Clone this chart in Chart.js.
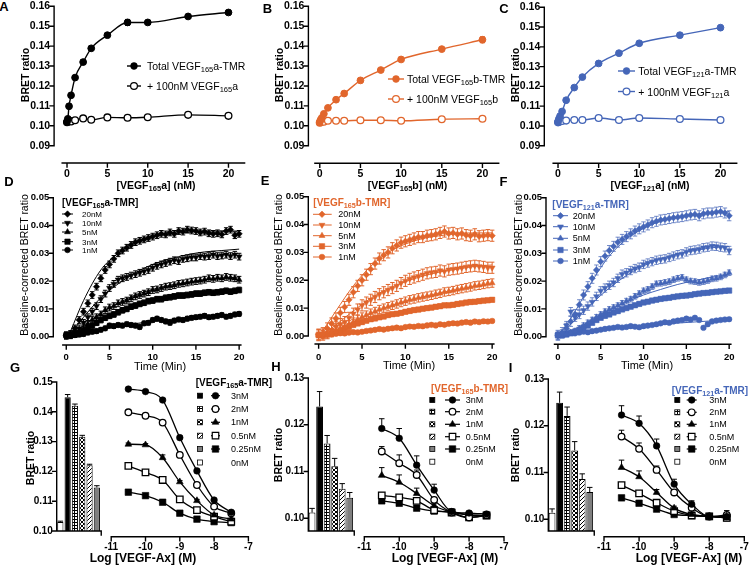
<!DOCTYPE html>
<html>
<head>
<meta charset="utf-8">
<title>VEGF-TMR BRET binding</title>
<script src="https://cdn.jsdelivr.net/npm/chart.js@4.4.1/dist/chart.umd.min.js"></script>
<style>
  body { margin: 0; background: #fff; }
  #fig { position: relative; width: 750px; height: 565px; overflow: hidden; background: #fff;
         font-family: "Liberation Sans", Arial, sans-serif; color: #000; }
  #fig canvas { position: absolute; }
  .t { position: absolute; white-space: nowrap; line-height: 1; }
  .t sub { font-size: 72%; vertical-align: baseline; position: relative; top: 0.3em; line-height: 0; }
</style>
</head>
<body>
<div id="fig"></div>
<script>
// ── A–C: saturation binding ──────────────────────────────────────────
const satConc = [0, 0.1, 0.25, 0.5, 1, 2, 3, 5, 7.5, 10, 15, 20];
const satTicksX = [0, 5, 10, 15, 20];
const satTicksY = [0.09, 0.10, 0.11, 0.12, 0.13, 0.14, 0.15, 0.16];

const totalA = [0.1020, 0.1035, 0.1098, 0.1153, 0.1242, 0.1320, 0.1389, 0.1455, 0.1519, 0.1519, 0.1549, 0.1569];
const nsbA   = [0.1018, 0.1020, 0.1025, 0.1022, 0.1028, 0.1037, 0.1030, 0.1042, 0.1040, 0.1043, 0.1055, 0.1050];
const errA   = [0, 0, 0, 0, 0.0005, 0.0012, 0.0005, 0.0005, 0.0015, 0.0005, 0.0005, 0.0005];
const totalB = [0.1018, 0.1030, 0.1040, 0.1060, 0.1090, 0.1131, 0.1162, 0.1228, 0.1280, 0.1333, 0.1385, 0.1432];
const nsbB   = [0.1015, 0.1018, 0.1020, 0.1020, 0.1025, 0.1025, 0.1025, 0.1028, 0.1028, 0.1025, 0.1033, 0.1035];
const errB   = [0, 0, 0, 0, 0.0005, 0.0005, 0.0005, 0.0005, 0.0005, 0.0005, 0.0005, 0.0015];
const totalC = [0.1020, 0.1035, 0.1050, 0.1073, 0.1130, 0.1194, 0.1247, 0.1316, 0.1368, 0.1418, 0.1459, 0.1497];
const nsbC   = [0.1018, 0.1020, 0.1025, 0.1025, 0.1027, 0.1030, 0.1030, 0.1040, 0.1030, 0.1040, 0.1035, 0.1030];
const errC   = [0, 0, 0, 0, 0.0005, 0.0005, 0.0005, 0.0005, 0.0005, 0.0010, 0.0010, 0.0005];

// ── D–F: association kinetics ────────────────────────────────────────
const kinTime = [0, 0.5, 1, 1.5, 2, 2.5, 3, 3.5, 4, 4.5, 5, 5.5, 6, 6.5, 7, 7.5, 8, 8.5, 9, 9.5, 10,
  10.5, 11, 11.5, 12, 12.5, 13, 13.5, 14, 14.5, 15, 15.5, 16, 16.5, 17, 17.5, 18, 18.5, 19, 19.5, 20];
const fitTime = [0.5, 2, 4, 6, 8, 10, 12, 14, 16, 18, 20];
const kinTicksY = [0, 0.01, 0.02, 0.03, 0.04, 0.05];
const kinLabels = ['20nM', '10nM', '5nM', '3nM', '1nM'];

const d20 = [0.0005,0.001,0.003,0.006,0.009,0.012,0.015,0.018,0.021,0.024,0.026,0.028,0.030,0.031,0.032,0.033,0.034,0.0345,0.035,0.0355,0.036,0.0365,0.037,0.0368,0.0375,0.037,0.038,0.0378,0.0385,0.0382,0.038,0.0375,0.0378,0.0372,0.037,0.0372,0.0368,0.038,0.0385,0.0365,0.037];
const d10 = [0.0003,0.0005,0.0015,0.003,0.005,0.007,0.009,0.011,0.0135,0.0155,0.0175,0.019,0.0205,0.021,0.0215,0.022,0.0225,0.023,0.0235,0.024,0.0248,0.0255,0.026,0.0265,0.027,0.0275,0.0272,0.028,0.0282,0.0285,0.0285,0.029,0.0288,0.029,0.0295,0.029,0.0292,0.0295,0.029,0.0295,0.0288];
const d5  = [0.0005,0.0008,0.001,0.002,0.003,0.0045,0.006,0.007,0.008,0.0095,0.0105,0.011,0.012,0.0125,0.013,0.0138,0.0145,0.015,0.0155,0.016,0.0168,0.017,0.0175,0.018,0.0182,0.0185,0.019,0.0192,0.0195,0.0198,0.020,0.0202,0.0205,0.021,0.0208,0.0212,0.021,0.0215,0.0212,0.021,0.0205];
const d3  = [0.0005,0.0006,0.0008,0.0012,0.002,0.003,0.004,0.005,0.006,0.0068,0.0075,0.008,0.0088,0.0095,0.010,0.0108,0.0112,0.0118,0.0122,0.0128,0.013,0.0135,0.0135,0.014,0.0142,0.0145,0.0148,0.0148,0.015,0.0152,0.0155,0.0155,0.0158,0.016,0.0158,0.016,0.0162,0.0165,0.0162,0.0165,0.0168];
const d1  = [0.0005,0.0004,0.0006,0.0008,0.001,0.0015,0.0018,0.002,0.0025,0.003,0.004,0.0038,0.0042,0.004,0.0045,0.0042,0.004,0.0035,0.0048,0.005,0.006,0.0065,0.006,0.0055,0.005,0.0058,0.0062,0.006,0.0065,0.0068,0.007,0.0072,0.0075,0.007,0.0072,0.0075,0.0078,0.0072,0.0075,0.008,0.0082];
const fitD20 = [0.002,0.013,0.024,0.030,0.034,0.036,0.037,0.0375,0.038,0.038,0.038];
const fitD10 = [0.001,0.007,0.014,0.019,0.023,0.026,0.028,0.0295,0.0305,0.031,0.0315];
const fitD5  = [0.0005,0.004,0.0085,0.012,0.015,0.017,0.0185,0.0195,0.0205,0.021,0.0215];
const fitD3  = [0.0005,0.003,0.006,0.009,0.0115,0.013,0.0145,0.0155,0.016,0.0165,0.017];
const fitD1  = [0.0004,0.0012,0.0025,0.0037,0.0047,0.0055,0.0062,0.0068,0.0073,0.0077,0.008];
const errD = [0.0012, 0.0012, 0.0012, 0.001, 0.0008];

const e20 = [0.0005,0.001,0.0027,0.0045,0.0063,0.0083,0.0104,0.013,0.0157,0.018,0.020,0.022,0.024,0.026,0.0278,0.029,0.030,0.0315,0.0325,0.0335,0.034,0.0345,0.035,0.0355,0.0355,0.036,0.0362,0.0365,0.037,0.0375,0.0368,0.037,0.0365,0.0368,0.0362,0.036,0.0365,0.0358,0.036,0.0362,0.036];
const e10 = [0.0003,0.0005,0.001,0.002,0.0033,0.0042,0.005,0.0065,0.008,0.0095,0.011,0.012,0.013,0.014,0.015,0.0157,0.0165,0.0172,0.018,0.019,0.0198,0.0205,0.021,0.0215,0.022,0.0225,0.0228,0.023,0.0235,0.0232,0.0238,0.024,0.0242,0.0245,0.0248,0.025,0.0252,0.025,0.0248,0.0245,0.0245];
const e5  = [0.0003,0.0005,0.0008,0.0012,0.0018,0.0025,0.0032,0.004,0.005,0.006,0.0068,0.0075,0.0082,0.0088,0.0095,0.010,0.0105,0.011,0.0115,0.012,0.0125,0.013,0.0133,0.0137,0.014,0.0143,0.0146,0.015,0.0153,0.0158,0.016,0.0163,0.0167,0.017,0.0173,0.0176,0.018,0.0182,0.0185,0.0188,0.019];
const e3  = [0.0003,0.0004,0.0006,0.001,0.0015,0.002,0.0028,0.0033,0.004,0.0045,0.005,0.0055,0.006,0.0063,0.0067,0.007,0.0075,0.0078,0.008,0.0083,0.0087,0.009,0.0093,0.0095,0.0098,0.010,0.0102,0.0105,0.0107,0.011,0.011,0.0112,0.0115,0.0117,0.012,0.0122,0.0123,0.0125,0.0127,0.0128,0.013];
const e1  = [0.0003,0.0003,0.0005,0.0006,0.0008,0.001,0.0009,0.0012,0.0014,0.0013,0.0015,0.0018,0.002,0.0022,0.0025,0.0023,0.0026,0.0028,0.003,0.0028,0.0032,0.0034,0.0033,0.0036,0.0035,0.0038,0.004,0.0038,0.0042,0.004,0.0044,0.0046,0.0045,0.0048,0.005,0.0048,0.0052,0.005,0.0053,0.0052,0.0054];
const fitE20 = [0.002,0.009,0.018,0.025,0.030,0.033,0.035,0.036,0.0368,0.037,0.037];
const fitE10 = [0.0005,0.004,0.009,0.0135,0.017,0.0195,0.0215,0.023,0.024,0.025,0.0255];
const fitE5  = [0.0003,0.002,0.005,0.008,0.0105,0.0125,0.014,0.0155,0.0167,0.0178,0.0187];
const fitE3  = [0.0003,0.0017,0.004,0.006,0.0075,0.0088,0.0099,0.0108,0.0116,0.0123,0.0129];
const fitE1  = [0.0003,0.0008,0.0014,0.002,0.0026,0.0031,0.0036,0.0041,0.0045,0.0049,0.0053];
const errE = [0.002, 0.002, 0.0015, 0.0008, 0.0006];

const f20 = [0.0005,0.0015,0.003,0.0055,0.008,0.0115,0.015,0.018,0.021,0.024,0.027,0.029,0.031,0.0325,0.034,0.035,0.036,0.037,0.038,0.0388,0.0395,0.0402,0.041,0.0415,0.042,0.0422,0.0425,0.0428,0.043,0.0432,0.0435,0.0438,0.044,0.0435,0.0442,0.0445,0.0445,0.0448,0.045,0.0445,0.0435];
const f10 = [0.0005,0.001,0.004,0.009,0.007,0.008,0.0095,0.011,0.0125,0.0145,0.0165,0.0175,0.0185,0.0195,0.021,0.0225,0.023,0.0238,0.0245,0.025,0.026,0.0265,0.027,0.0275,0.0278,0.028,0.0285,0.029,0.0295,0.0298,0.0305,0.031,0.0312,0.0315,0.032,0.0322,0.0326,0.0325,0.0322,0.032,0.031];
const f5  = [0.0005,0.0006,0.001,0.0015,0.002,0.003,0.004,0.005,0.006,0.007,0.008,0.009,0.0098,0.0105,0.0112,0.012,0.0128,0.0135,0.0145,0.0155,0.0165,0.017,0.018,0.019,0.0192,0.0195,0.0198,0.0205,0.021,0.0213,0.0205,0.020,0.0198,0.0195,0.0198,0.0202,0.0208,0.021,0.0215,0.0222,0.023];
const f3  = [0.0005,0.0006,0.0008,0.0012,0.0018,0.0025,0.0033,0.004,0.005,0.006,0.0068,0.0075,0.008,0.0087,0.0092,0.0098,0.0103,0.0108,0.0113,0.0118,0.0123,0.0126,0.013,0.0133,0.0136,0.0138,0.014,0.0143,0.0145,0.0147,0.0148,0.015,0.0153,0.0155,0.0157,0.0158,0.016,0.0162,0.0163,0.0165,0.0166];
const f1  = [0.0008,0.001,0.0012,0.0015,0.0012,0.0015,0.0018,0.0016,0.002,0.0022,0.0025,0.0028,0.003,0.0032,0.0035,0.0033,0.0035,0.0038,0.0036,0.0034,0.0038,0.004,0.0042,0.0045,0.0048,0.0052,0.005,0.0055,0.0058,0.006,0.0065,0.0062,0.0068,0.006,0.0032,0.0045,0.0055,0.0058,0.006,0.0062,0.0063];
const fitF20 = [0.002,0.009,0.020,0.029,0.035,0.039,0.0415,0.043,0.044,0.0445,0.045];
const fitF10 = [0.0015,0.006,0.012,0.0175,0.022,0.0255,0.028,0.0298,0.031,0.032,0.0325];
const fitF5  = [0.0005,0.0025,0.006,0.0095,0.0125,0.015,0.017,0.0188,0.0202,0.0214,0.0225];
const fitF3  = [0.0005,0.0022,0.005,0.0078,0.0102,0.012,0.0135,0.0146,0.0155,0.0161,0.0166];
const fitF1  = [0.001,0.0015,0.002,0.0028,0.0034,0.0039,0.0044,0.0049,0.0053,0.0057,0.006];
const errF = [0.0018, 0.0015, 0.001, 0.0008, 0.0006];

// ── G–I: competition with unlabelled VEGF-Ax ─────────────────────────
const barLabels = ['0nM', '3nM', '2nM', '1nM', '0.5nM', '0.25nM'];
const barG = [0.1030, 0.1449, 0.1420, 0.1316, 0.1221, 0.1146];
const barErrG = [0.0003, 0.0009, 0.0006, 0.0005, 0.0003, 0.0006];
const barH = [0.1012, 0.1239, 0.1160, 0.1111, 0.1063, 0.1044];
const barErrH = [0.0009, 0.0032, 0.0017, 0.0017, 0.0011, 0.0011];
const barI = [0.1014, 0.1249, 0.1221, 0.1147, 0.1086, 0.1058];
const barErrI = [0.0008, 0.0023, 0.0019, 0.0019, 0.0011, 0.0010];

const doseLog = [-10.5, -10, -9.5, -9, -8.5, -8, -7.5];
const doseTicksX = [-11, -10, -9, -8, -7];
const doseLabels = ['3nM', '2nM', '1nM', '0.5nM', '0.25nM'];

const g3   = [0.1471, 0.1463, 0.1436, 0.1316, 0.1210, 0.1117, 0.1078];
const g2   = [0.1397, 0.1386, 0.1364, 0.1261, 0.1165, 0.1096, 0.1075];
const g1   = [0.1295, 0.1293, 0.1252, 0.1175, 0.1115, 0.1069, 0.1056];
const g05  = [0.1226, 0.1205, 0.1181, 0.1119, 0.1085, 0.1064, 0.1048];
const g025 = [0.1142, 0.1131, 0.1110, 0.1075, 0.1056, 0.1048, 0.1045];
const errG3   = [0.0004, 0.0004, 0.0005, 0.0005, 0.0004, 0.0004, 0.0003];
const errG2   = [0.0004, 0.0004, 0.0005, 0.0005, 0.0004, 0.0004, 0.0003];
const errG1   = [0.0004, 0.0004, 0.0009, 0.0004, 0.0004, 0.0003, 0.0003];
const errG05  = [0.0003, 0.0003, 0.0004, 0.0004, 0.0004, 0.0003, 0.0003];
const errG025 = [0.0003, 0.0003, 0.0003, 0.0003, 0.0003, 0.0003, 0.0003];

const h3   = [0.1194, 0.1174, 0.1119, 0.1068, 0.1024, 0.1021, 0.1019];
const h2   = [0.1147, 0.1123, 0.1099, 0.1048, 0.1022, 0.1012, 0.1017];
const h1   = [0.1098, 0.1084, 0.1061, 0.1036, 0.1023, 0.1017, 0.1016];
const h05  = [0.1057, 0.1053, 0.1046, 0.1027, 0.1022, 0.1012, 0.1016];
const h025 = [0.1046, 0.1041, 0.1031, 0.1025, 0.1023, 0.1017, 0.1016];
const errH3   = [0.0020, 0.0020, 0.0019, 0.0012, 0.0005, 0.0004, 0.0004];
const errH2   = [0.0010, 0.0017, 0.0010, 0.0005, 0.0004, 0.0003, 0.0003];
const errH1   = [0.0016, 0.0015, 0.0011, 0.0004, 0.0003, 0.0003, 0.0003];
const errH05  = [0.0006, 0.0004, 0.0006, 0.0003, 0.0003, 0.0003, 0.0003];
const errH025 = [0.0004, 0.0003, 0.0004, 0.0003, 0.0003, 0.0003, 0.0003];

const i3   = [0.1223, 0.1206, 0.1160, 0.1082, 0.1041, 0.1016, 0.1016];
const i2   = [0.1179, 0.1154, 0.1111, 0.1065, 0.1034, 0.1016, 0.1019];
const i1   = [0.1116, 0.1097, 0.1065, 0.1033, 0.1020, 0.1016, 0.1013];
const i05  = [0.1080, 0.1063, 0.1044, 0.1027, 0.1018, 0.1016, 0.1013];
const i025 = [0.1054, 0.1043, 0.1031, 0.1020, 0.1018, 0.1016, 0.1013];
const errI3   = [0.0019, 0.0015, 0.0014, 0.0010, 0.0007, 0.0004, 0.0012];
const errI2   = [0.0013, 0.0012, 0.0008, 0.0005, 0.0004, 0.0003, 0.0004];
const errI1   = [0.0015, 0.0012, 0.0006, 0.0004, 0.0003, 0.0003, 0.0003];
const errI05  = [0.0005, 0.0004, 0.0004, 0.0003, 0.0003, 0.0003, 0.0003];
const errI025 = [0.0004, 0.0003, 0.0003, 0.0003, 0.0003, 0.0003, 0.0003];

// ── setup ────────────────────────────────────────────────────────────
const fig = document.getElementById('fig');
const FONT = '"Liberation Sans", Arial, sans-serif';
const BLACK = '#000000', ORANGE = '#E1662C', BLUE = '#4566B8';
Chart.defaults.font.family = FONT;
Chart.defaults.color = '#000';

const pts = (xs, ys) => xs.map((x, i) => ({x, y: ys[i]}));

function markPath(ctx, style, x, y, r, rot) {
  ctx.beginPath();
  if (style === 'circle') {
    ctx.arc(x, y, r, 0, Math.PI * 2);
  } else if (style === 'rect') {
    const s = r * Math.SQRT1_2;
    ctx.rect(x - s, y - s, s * 2, s * 2);
  } else if (style === 'rectRot') {
    ctx.moveTo(x, y - r); ctx.lineTo(x + r, y); ctx.lineTo(x, y + r); ctx.lineTo(x - r, y);
  } else if (style === 'triangle') {
    const d = rot ? -1 : 1;
    ctx.moveTo(x, y - d * r);
    ctx.lineTo(x + r * 0.866, y + d * r * 0.5);
    ctx.lineTo(x - r * 0.866, y + d * r * 0.5);
  }
  ctx.closePath();
}

function hatch(kind) {
  const n = kind === 'grid' ? 3 : 4;
  const c = document.createElement('canvas');
  c.width = c.height = n;
  const g = c.getContext('2d');
  g.fillStyle = '#fff';
  g.fillRect(0, 0, n, n);
  g.fillStyle = '#000';
  if (kind === 'grid') { g.fillRect(0, 0, n, 1); g.fillRect(0, 0, 1, n); }
  if (kind === 'cross') { for (let i = 0; i < n; i++) { g.fillRect(i, i, 1, 1); g.fillRect(n - 1 - i, i, 1, 1); } }
  if (kind === 'diag') { for (let i = 0; i < n; i++) g.fillRect(n - 1 - i, i, 1, 1); }
  return g.createPattern(c, 'repeat');
}
const barFills = ['#ffffff', '#000000', hatch('grid'), hatch('cross'), hatch('diag'), '#7f7f7f'];

// error bars, read from dataset.errors
const errorBars = {
  id: 'errorBars',
  beforeDatasetDraw(chart, args) {
    const ds = chart.data.datasets[args.index];
    if (ds.errors == null) return;
    const ys = chart.scales.y, ctx = chart.ctx;
    ctx.save();
    ctx.strokeStyle = ds.errColor || ds.borderColor || '#000';
    ctx.lineWidth = 1;
    args.meta.data.forEach((el, i) => {
      const e = Array.isArray(ds.errors) ? ds.errors[i] : ds.errors;
      if (!e) return;
      const d = ds.data[i], v = typeof d === 'number' ? d : d.y;
      const top = ys.getPixelForValue(v + e);
      const bot = ys.getPixelForValue(ds.errBoth ? v - e : v);
      const h = (ds.errCap || 5) / 2;
      ctx.beginPath();
      ctx.moveTo(el.x, bot); ctx.lineTo(el.x, top);
      ctx.moveTo(el.x - h, top); ctx.lineTo(el.x + h, top);
      if (ds.errBoth) { ctx.moveTo(el.x - h, bot); ctx.lineTo(el.x + h, bot); }
      ctx.stroke();
    });
    ctx.restore();
  }
};

// Prism-style detached axes
function axesPlugin(o) {
  return {
    id: 'prismAxes',
    afterDraw(chart) {
      const ctx = chart.ctx, a = chart.chartArea, xs = chart.scales.x, ys = chart.scales.y;
      const tick = 4;
      ctx.save();
      ctx.strokeStyle = '#000';
      ctx.lineWidth = 1.4;
      ctx.lineCap = 'square';
      ctx.beginPath();
      if (o.y) {
        const x = a.left;
        ctx.moveTo(x, ys.getPixelForValue(o.y.from));
        ctx.lineTo(x, ys.getPixelForValue(o.y.to));
        ys.ticks.forEach(t => {
          const y = ys.getPixelForValue(t.value);
          ctx.moveTo(x - tick, y); ctx.lineTo(x, y);
        });
      }
      if (o.x) {
        const y = a.bottom + (o.x.offset || 0);
        ctx.moveTo(xs.getPixelForValue(o.x.from), y);
        ctx.lineTo(xs.getPixelForValue(o.x.to), y);
        (o.x.ticks || xs.ticks.map(t => t.value)).forEach(v => {
          const x = xs.getPixelForValue(v);
          ctx.moveTo(x, y); ctx.lineTo(x, y + tick);
        });
      }
      ctx.stroke();
      ctx.restore();
    }
  };
}

// legend symbols, page coordinates
function marksPlugin(items, ox, oy) {
  return {
    id: 'legendMarks',
    afterDraw(chart) {
      const ctx = chart.ctx;
      items.forEach(it => {
        const x = it.x - ox, y = it.y - oy;
        ctx.save();
        if (it.line) {
          ctx.strokeStyle = it.color;
          ctx.lineWidth = it.lw || 1.2;
          ctx.beginPath();
          ctx.moveTo(it.line[0] - ox, y);
          ctx.lineTo(it.line[1] - ox, y);
          ctx.stroke();
        }
        if (it.swatch) {
          ctx.fillStyle = it.swatch;
          ctx.fillRect(x - 2.5, y - 2.5, 5, 5);
          ctx.strokeStyle = '#000';
          ctx.lineWidth = 0.8;
          ctx.strokeRect(x - 2.5, y - 2.5, 5, 5);
        }
        if (it.style) {
          markPath(ctx, it.style, x, y, it.r, it.rot);
          ctx.fillStyle = it.open ? '#fff' : it.color;
          ctx.fill();
          ctx.strokeStyle = it.color;
          ctx.lineWidth = it.open ? 1.2 : 0.6;
          ctx.stroke();
        }
        ctx.restore();
      });
    }
  };
}

function linScale(min, max, ticks, size, pad, fmt, show = true) {
  return {
    type: 'linear', min, max, display: show,
    grid: {display: false, drawTicks: false},
    border: {display: false},
    afterBuildTicks: s => { s.ticks = ticks.map(v => ({value: v})); },
    ticks: {font: {size, weight: 'bold'}, padding: pad, autoSkip: false, maxRotation: 0, callback: fmt}
  };
}
const fmtY = v => v.toFixed(2);
const fmtX = v => String(v);

// area = chart area in page px, m = room around it for labels
function makeChart(area, m, cfg, axes, marks) {
  const left = Math.floor(area.l - m.l), top = Math.floor(area.t - m.t);
  const w = Math.ceil(area.r + m.r) - left, h = Math.ceil(area.b + m.b) - top;
  const padL = area.l - left, padT = area.t - top, padR = left + w - area.r, padB = top + h - area.b;
  const cv = document.createElement('canvas');
  cv.width = w; cv.height = h;
  Object.assign(cv.style, {left: left + 'px', top: top + 'px', width: w + 'px', height: h + 'px'});
  fig.appendChild(cv);
  const o = cfg.options;
  o.responsive = false;
  o.animation = false;
  o.devicePixelRatio = 1;
  o.events = [];
  o.layout = {padding: {left: 0, top: padT, right: padR, bottom: 0}};
  o.scales.x.afterFit = s => { s.height = padB; };
  o.scales.y.afterFit = s => { s.width = padL; };
  o.plugins = {legend: {display: false}, tooltip: {enabled: false}};
  cfg.plugins = [errorBars, axesPlugin(axes), marksPlugin(marks || [], left, top)];
  return new Chart(cv, cfg);
}

function txt(html, x, y, css, anchor) {
  const d = document.createElement('div');
  d.className = 't';
  d.innerHTML = html;
  d.style.cssText = css;
  d.style.left = x + 'px';
  d.style.top = y + 'px';
  d.style.transform = anchor === 'left' ? 'translate(0,-50%)'
    : anchor === 'rot' ? 'translate(-50%,-50%) rotate(-90deg)' : 'translate(-50%,-50%)';
  fig.appendChild(d);
}
const F = (size, bold, color) => `font:${bold ? 'bold ' : ''}${size}px ${FONT};color:${color || '#000'};`;

// ── A–C charts ───────────────────────────────────────────────────────
function satChart(area, xmin, gap, color, total, nsb, err, legend) {
  const common = {showLine: true, cubicInterpolationMode: 'monotone', borderColor: color, borderWidth: 1.4,
    pointStyle: 'circle', pointRadius: 3.4, pointBorderColor: color, clip: false};
  const marks = [
    {x: legend.cx, y: legend.y[0], line: legend.line, color, style: 'circle', r: 3.4, lw: 1.4},
    {x: legend.cx, y: legend.y[1], line: legend.line, color, style: 'circle', r: 3.4, lw: 1.4, open: true}
  ];
  return makeChart(area, {l: 42, t: 8, r: 8, b: 36}, {
    type: 'scatter',
    data: {datasets: [
      Object.assign({data: pts(satConc, total), pointBackgroundColor: color, pointBorderWidth: 1,
        errors: err, errCap: 5, errBoth: true}, common),
      Object.assign({data: pts(satConc, nsb), pointBackgroundColor: '#fff', pointBorderWidth: 1.3}, common)
    ]},
    options: {scales: {
      x: linScale(xmin, 22, satTicksX, 10.5, 22, fmtX),
      y: linScale(0.09, 0.16, satTicksY, 10.5, 4, fmtY)
    }}
  }, {x: {from: -0.6, to: 22, offset: gap}, y: {from: 0.09, to: 0.16}}, marks);
}

satChart({l: 54.1, r: 248.8, t: 4.3, b: 145.7}, -1.6, 17.3, BLACK, totalA, nsbA, errA,
  {cx: 134, line: [127, 141], y: [66, 86]});
satChart({l: 308.4, r: 502.6, t: 4.3, b: 145.7}, -1.4, 17.6, ORANGE, totalB, nsbB, errB,
  {cx: 396, line: [388, 404], y: [79, 99]});
satChart({l: 544.3, r: 740.9, t: 5, b: 145.7}, -1.69, 17.6, BLUE, totalC, nsbC, errC,
  {cx: 626.5, line: [618, 635], y: [71, 91.5]});

// ── D–F charts ───────────────────────────────────────────────────────
const kinStyle = [
  {s: 'rectRot', r: 3.2}, {s: 'triangle', r: 3.4, rot: 180}, {s: 'triangle', r: 3.4},
  {s: 'rect', r: 3.8}, {s: 'circle', r: 2.8}
];

function kinChart(area, xmin, gap, color, errColor, series, fits, errs, legend) {
  const datasets = [];
  series.forEach((s, i) => {
    const st = kinStyle[i];
    datasets.push({data: pts(kinTime, s), showLine: false, pointStyle: st.s, pointRotation: st.rot || 0,
      pointRadius: st.r, pointBackgroundColor: color, pointBorderColor: color, pointBorderWidth: 0.5,
      borderColor: color, errors: errs[i], errBoth: true, errCap: 4.5, errColor, clip: false});
    datasets.push({data: pts(fitTime, fits[i]), showLine: true, cubicInterpolationMode: 'monotone',
      borderColor: color, borderWidth: 1, pointRadius: 0, clip: false});
  });
  const marks = kinStyle.map((st, i) => ({x: legend.cx, y: legend.y[i], line: legend.line, color,
    style: st.s, r: st.r, rot: st.rot, lw: 1}));
  return makeChart(area, {l: 40, t: 8, r: 8, b: 28}, {
    type: 'scatter',
    data: {datasets},
    options: {scales: {
      x: linScale(xmin, 20.7, satTicksX, 9.5, 15.3, fmtX),
      y: linScale(0, 0.05, kinTicksY, 9.5, 4, fmtY)
    }}
  }, {x: {from: -0.4, to: 20.2, offset: gap}, y: {from: 0, to: 0.05}}, marks);
}

kinChart({l: 53.3, r: 251.2, t: 196, b: 336.7}, -1.5, 8.3, BLACK, BLACK,
  [d20, d10, d5, d3, d1], [fitD20, fitD10, fitD5, fitD3, fitD1], errD,
  {cx: 67.5, line: [62, 73], y: [214, 223, 232, 241.7, 250]});
kinChart({l: 308.3, r: 504.7, t: 195, b: 336}, -1.19, 8, ORANGE, ORANGE,
  [e20, e10, e5, e3, e1], [fitE20, fitE10, fitE5, fitE3, fitE1], errE,
  {cx: 322, line: [313, 331.7], y: [214.3, 225, 235.7, 246.3, 257]});
kinChart({l: 546, r: 741.9, t: 196, b: 336.7}, -1.39, 7.6, BLUE, 'rgba(69,102,184,0.75)',
  [f20, f10, f5, f3, f1], [fitF20, fitF10, fitF5, fitF3, fitF1], errF,
  {cx: 560.5, line: [553, 568], y: [215.7, 226.7, 238.3, 250, 261]});

// ── G–I charts ───────────────────────────────────────────────────────
function barChart(area, ymin, ymax, yticks, values, errs, pct) {
  return makeChart(area, {l: 36, t: 8, r: 4, b: 4}, {
    type: 'bar',
    data: {labels: barLabels, datasets: [{data: values, backgroundColor: barFills, borderColor: '#000',
      borderWidth: 1, barPercentage: pct, categoryPercentage: 1, errors: errs, errCap: 5.5}]},
    options: {scales: {
      x: {type: 'category', offset: true, grid: {display: false, drawTicks: false},
        border: {display: false}, ticks: {display: false}},
      y: linScale(ymin, ymax, yticks, 10, 4, fmtY)
    }}
  }, {x: {from: -0.5, to: 5.6, ticks: [5.6]}, y: {from: ymin, to: ymax}});
}

const doseStyle = [
  {s: 'circle', r: 3.3}, {s: 'circle', r: 3.3, open: true}, {s: 'triangle', r: 3.9},
  {s: 'rect', r: 4.6, open: true}, {s: 'rect', r: 4.6}
];

function doseChart(area, ymin, ymax, series, errs, legend) {
  const datasets = series.map((s, i) => {
    const st = doseStyle[i];
    return {data: pts(doseLog, s), showLine: true, cubicInterpolationMode: 'monotone',
      borderColor: '#000', borderWidth: 1.3, pointStyle: st.s, pointRadius: st.r,
      pointBackgroundColor: st.open ? '#fff' : '#000', pointBorderColor: '#000',
      pointBorderWidth: st.open ? 1.3 : 0.6, errors: errs[i], errCap: 5.5, clip: false};
  });
  const marks = [];
  doseStyle.forEach((st, i) => {
    marks.push({x: legend.sx, y: legend.y[i], swatch: barFills[i + 1]});
    marks.push({x: legend.mx, y: legend.y[i], line: legend.line, color: '#000', style: st.s,
      r: st.r, open: st.open, lw: 1.2});
  });
  marks.push({x: legend.sx, y: legend.y[5], swatch: barFills[0]});
  return makeChart(area, {l: 14, t: 8, r: 10, b: 20}, {
    type: 'scatter',
    data: {datasets},
    options: {scales: {
      x: linScale(-11, -7, doseTicksX, 10, 5, fmtX),
      y: linScale(ymin, ymax, [], 10, 4, fmtY, false)
    }}
  }, {x: {from: -11, to: -7}}, marks);
}

barChart({l: 56.7, r: 100.5, t: 380, b: 536.7}, 0.10, 0.15, [0.10, 0.11, 0.12, 0.13, 0.14, 0.15],
  barG, barErrG, 0.85);
doseChart({l: 111.2, r: 248.4, t: 380, b: 536.7}, 0.10, 0.15, [g3, g2, g1, g05, g025],
  [errG3, errG2, errG1, errG05, errG025],
  {sx: 200, mx: 215.5, line: [211, 220], y: [395.7, 409, 422.3, 435.7, 449, 462.5]});

barChart({l: 308.3, r: 353.5, t: 376.7, b: 536.7}, 0.09726, 0.13, [0.10, 0.11, 0.12, 0.13],
  barH, barErrH, 0.9);
doseChart({l: 364.3, r: 504.0, t: 376.7, b: 536.7}, 0.09726, 0.13, [h3, h2, h1, h05, h025],
  [errH3, errH2, errH1, errH05, errH025],
  {sx: 432.3, mx: 452.5, line: [445, 460], y: [400, 411.7, 424.3, 436.7, 449, 461.7]});

barChart({l: 548.3, r: 593.5, t: 377.3, b: 536.7}, 0.09747, 0.13, [0.10, 0.11, 0.12, 0.13],
  barI, barErrI, 0.9);
doseChart({l: 604, r: 744.3, t: 377.3, b: 536.7}, 0.09747, 0.13, [i3, i2, i1, i05, i025],
  [errI3, errI2, errI1, errI05, errI025],
  {sx: 677.3, mx: 691.7, line: [686.7, 696.7], y: [400, 412.3, 424.3, 436.7, 449, 461.7]});

// ── text ─────────────────────────────────────────────────────────────
[['A', 4, 6], ['B', 267.5, 7.5], ['C', 504, 7.5], ['D', 9, 181], ['E', 265, 180], ['F', 503.5, 181],
 ['G', 15, 366.5], ['H', 276, 366], ['I', 510.5, 366.5]].forEach(([s, x, y]) => txt(s, x, y, F(13, true)));

// row 1
[[25, 75], [279, 75], [515, 75]].forEach(([x, y]) => txt('BRET ratio', x, y, F(10.5, true), 'rot'));
txt('[VEGF<sub>165</sub>a] (nM)', 156, 185, F(10.5, true));
txt('[VEGF<sub>165</sub>b] (nM)', 407.5, 185, F(10.5, true));
txt('[VEGF<sub>121</sub>a] (nM)', 650, 184.5, F(10.5, true));
txt('Total VEGF<sub>165</sub>a-TMR', 147, 66, F(10.5), 'left');
txt('+ 100nM VEGF<sub>165</sub>a', 147, 86, F(10.5), 'left');
txt('Total VEGF<sub>165</sub>b-TMR', 407, 79, F(10.5), 'left');
txt('+ 100nM VEGF<sub>165</sub>b', 407, 99, F(10.5), 'left');
txt('Total VEGF<sub>121</sub>a-TMR', 638.3, 71, F(10.5), 'left');
txt('+ 100nM VEGF<sub>121</sub>a', 638.3, 91.5, F(10.5), 'left');

// row 2
[[24, 265], [278.3, 265], [517.5, 265]].forEach(([x, y]) =>
  txt('Baseline-corrected BRET ratio', x, y, F(10.5), 'rot'));
[[160, 366], [409, 365], [647, 365]].forEach(([x, y]) => txt('Time (Min)', x, y, F(11)));
txt('[VEGF<sub>165</sub>a-TMR]', 62, 202, F(10, true), 'left');
txt('[VEGF<sub>165</sub>b-TMR]', 313.3, 201.7, F(10, true, ORANGE), 'left');
txt('[VEGF<sub>121</sub>a-TMR]', 552.3, 204.3, F(10, true, BLUE), 'left');
[214, 223, 232, 241.7, 250].forEach((y, i) => txt(kinLabels[i], 82, y, F(8), 'left'));
[214.3, 225, 235.7, 246.3, 257].forEach((y, i) => txt(kinLabels[i], 338.3, y, F(9), 'left'));
[215.7, 226.7, 238.3, 250, 261].forEach((y, i) => txt(kinLabels[i], 572.7, y, F(9), 'left'));

// row 3
[[29.5, 458], [278.3, 455], [515, 455]].forEach(([x, y]) => txt('BRET ratio', x, y, F(10.5, true), 'rot'));
[[143, 558], [445, 558], [689, 558]].forEach(([x, y]) => txt('Log [VEGF-Ax] (M)', x, y, F(12, true)));
txt('[VEGF<sub>165</sub>a-TMR]', 195.7, 381.7, F(10, true), 'left');
txt('[VEGF<sub>165</sub>b-TMR]', 431, 387.7, F(10, true, ORANGE), 'left');
txt('[VEGF<sub>121</sub>a-TMR]', 671.7, 390, F(10, true, BLUE), 'left');
const legendRows = [doseLabels[0], doseLabels[1], doseLabels[2], doseLabels[3], doseLabels[4], barLabels[0]];
[395.7, 409, 422.3, 435.7, 449, 462.5].forEach((y, i) => txt(legendRows[i], 231, y, F(9), 'left'));
[400, 411.7, 424.3, 436.7, 449, 461.7].forEach((y, i) => txt(legendRows[i], 465.7, y, F(9), 'left'));
[400, 412.3, 424.3, 436.7, 449, 461.7].forEach((y, i) => txt(legendRows[i], 709.3, y, F(9), 'left'));
</script>
</body>
</html>
